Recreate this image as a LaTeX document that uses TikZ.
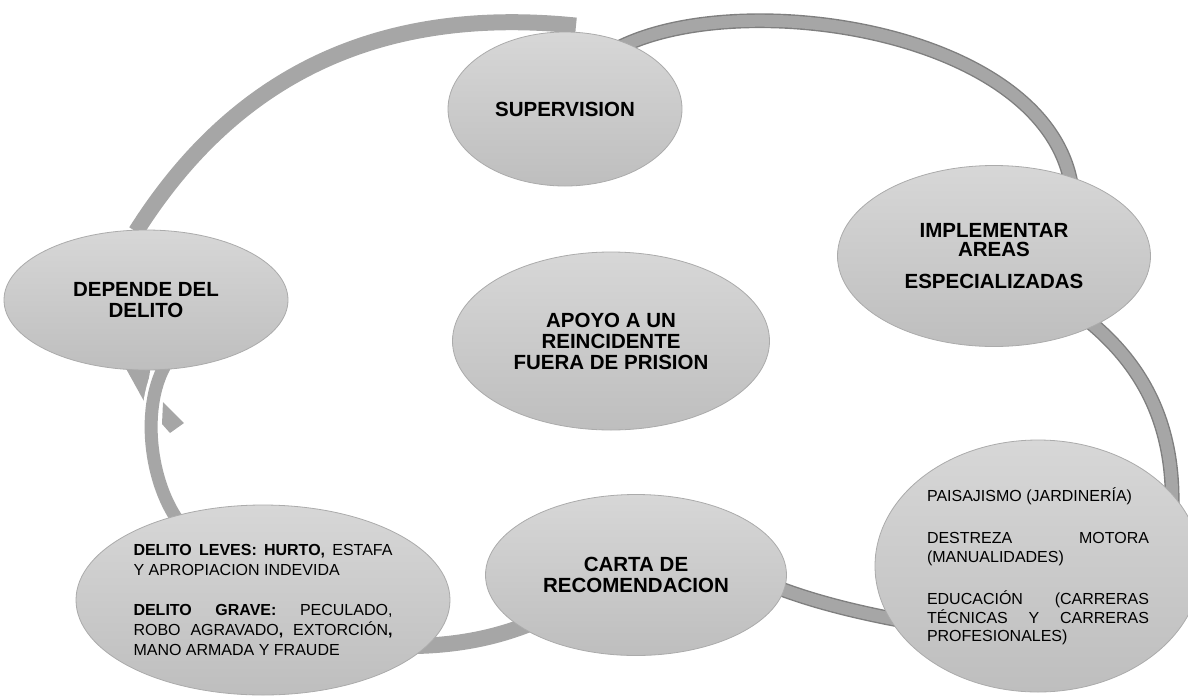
\documentclass[tikz,border=0pt]{standalone}
\usepackage{fontspec}
\setmainfont{Liberation Sans}
\usetikzlibrary{shapes,backgrounds,calc}
\tolerance=10000
\hyphenpenalty=10000
\definecolor{ringgray}{HTML}{A6A6A6}
\definecolor{ringedge}{HTML}{7F7F7F}
\definecolor{bubtop}{HTML}{D7D7D7}
\definecolor{bubbot}{HTML}{BEBEBE}
\definecolor{bubedge}{HTML}{ABABAB}
\tikzstyle{bub}=[ellipse,draw=bubedge,line width=.8pt,top color=bubtop,bottom color=bubbot,inner sep=0pt]
\tikzstyle{bubbig}=[bub,font=\fontsize{20.5}{21.5}\selectfont\bfseries,align=center]
\tikzstyle{bubsmall}=[bub,align=justify]
\tikzstyle{ring}=[ringgray,line width=16pt]
\tikzstyle{ringd}=[draw=ringedge,line width=1.4pt,double=ringgray,double distance=12pt]

\begin{document}
\begin{tikzpicture}[x=1pt,y=-1pt]
\useasboundingbox (0,0) rectangle (1188,696);
\clip (0,0) rectangle (1188,696);
\node[bubbig,minimum width=284pt,minimum height=140pt] (dep) at (146,300) {DEPENDE DEL\\DELITO};
\node[bubbig,minimum width=234pt,minimum height=154pt] (sup) at (565,109) {SUPERVISION};
\node[bubbig,minimum width=313pt,minimum height=181pt] (impl) at (994,256) {IMPLEMENTAR\\[-2pt]AREAS\\[10pt]ESPECIALIZADAS};
\node[bubbig,minimum width=317pt,minimum height=178pt] (apoyo) at (611,341) {APOYO A UN\\[-.5pt]REINCIDENTE\\[-.5pt]FUERA DE PRISION};
\node[bubbig,minimum width=301pt,minimum height=161pt] (carta) at (636,575) {CARTA DE\\RECOMENDACION};
\node[bubsmall,text width=222pt,minimum width=326pt,minimum height=252pt,font=\fontsize{16}{18.5}\selectfont] (paisa) at (1038,566) {PAISAJISMO (JARDINERÍA)\\[24pt]DESTREZA MOTORA\linebreak (MANUALIDADES)\\[24pt]EDUCACIÓN (CARRERAS\linebreak TÉCNICAS Y CARRERAS\linebreak PROFESIONALES)};
\node[bubsmall,text width=259pt,minimum width=374pt,minimum height=190pt,font=\fontsize{16}{20}\selectfont] (delito) at (263,600) {{\bfseries DELITO LEVES: HURTO,} ESTAFA\linebreak Y APROPIACION INDEVIDA\\[20pt]{\bfseries DELITO GRAVE:} PECULADO,\linebreak ROBO AGRAVADO{\bfseries,} EXTORCIÓN{\bfseries,}\linebreak MANO ARMADA Y FRAUDE};
\begin{pgfonlayer}{background}
\fill[ringgray] (124,365) -- (151,365) -- (145,403) -- cycle;
\fill[ringgray] (163,402) -- (184,423) -- (170,433) -- (162,424) -- cycle;
\draw[ring,line width=13pt,preaction={draw=white,line width=19pt}] ($(delito.north)+(-78,25)$) .. controls (150,490) and (140,410) .. ($(dep.south)+(19,-5)$);
\draw[ring] ($(dep.north)+(-10,2)$) .. controls (216,105) and (346,2) .. ($(sup.north)+(11,-6)$);
\draw[ringd] ($(sup.45)+(-12,4)$) .. controls (740,-15) and (1050,30) .. ($(impl.north)+(78,24)$);
\draw[ringd] ($(impl.east)+(-66,62)$) .. controls (1135,358) and (1175,415) .. ($(paisa.north)+(134,70)$);
\draw[ringd] ($(paisa.west)+(35,56)$) .. controls (870,615) and (815,603) .. ($(carta.east)+(-16,10)$);
\draw[ring] ($(carta.west)+(54,45)$) .. controls (500,637) and (460,645) .. ($(delito.east)+(-35,46)$);
\end{pgfonlayer}
\end{tikzpicture}
\end{document}
